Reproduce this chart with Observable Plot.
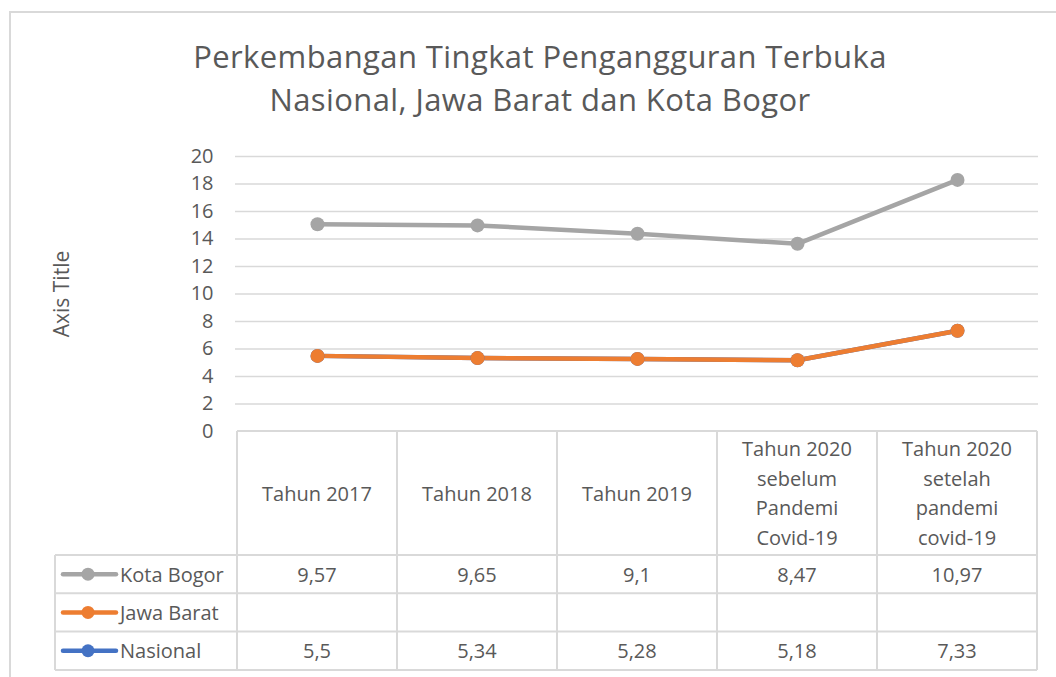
<!DOCTYPE html>
<html>
<head>
<meta charset="utf-8">
<script src="https://cdn.jsdelivr.net/npm/d3@7"></script>
<script src="https://cdn.jsdelivr.net/npm/@observablehq/plot@0.6"></script>
<style>
  html, body { margin: 0; padding: 0; background: #fff; }
  #wrap { position: relative; width: 1056px; height: 677px; overflow: hidden; font-family: "Open Sans", sans-serif; }
  #border { position: absolute; left: 9px; top: 11px; width: 1100px; height: 700px; border-left: 2px solid #d9d9d9; border-top: 2px solid #d9d9d9; }
  #title { position: absolute; left: 0; top: 35px; width: 1080px; text-align: center; font-size: 31px; letter-spacing: 0.4px; line-height: 43px; color: #595959; }
  #chart { position: absolute; left: 0; top: 0; }
</style>
</head>
<body>
<div id="wrap">
  <div id="border"></div>
  <div id="chart"></div>
  <div id="title">Perkembangan Tingkat Pengangguran Terbuka<br>Nasional, Jawa Barat dan Kota Bogor</div>
</div>
<script>
// Categories (header labels of the data table)
const categories = [
  "Tahun 2017",
  "Tahun 2018",
  "Tahun 2019",
  "Tahun 2020\nsebelum\nPandemi\nCovid-19",
  "Tahun 2020\nsetelah\npandemi\ncovid-19"
];
// Series values (stacked line chart; Jawa Barat is empty)
const nasional = [5.5, 5.34, 5.28, 5.18, 7.33];
const jawaBarat = [null, null, null, null, null];
const kotaBogor = [9.57, 9.65, 9.1, 8.47, 10.97];
// Y tick labels
const yTicks = [0, 2, 4, 6, 8, 10, 12, 14, 16, 18, 20];

const seriesNames = ["Kota Bogor", "Jawa Barat", "Nasional"]; // table order
const colors = {"Nasional": "#4472c4", "Jawa Barat": "#ed7d31", "Kota Bogor": "#a5a5a5"};
const values = {"Nasional": nasional, "Jawa Barat": jawaBarat, "Kota Bogor": kotaBogor};

// Stack in Excel order: Nasional, Jawa Barat, Kota Bogor
const stackOrder = ["Nasional", "Jawa Barat", "Kota Bogor"];
const stacked = [];
const cum = categories.map(() => 0);
for (const s of stackOrder) {
  values[s].forEach((v, i) => {
    cum[i] += (v == null ? 0 : v);
    stacked.push({series: s, cat: categories[i], value: cum[i]});
  });
}

const fmt = v => v == null ? "" : String(v).replace(".", ",");
const font = '"Open Sans", sans-serif';
const textColor = "#595959";
const lineColor = "#d9d9d9";

function dataTable(index, scales, vals, dims) {
  const x = scales.x, y = scales.y;
  const centers = categories.map(c => x(c));
  const step = centers[1] - centers[0];
  const left = centers[0] - step / 2;
  const right = centers[centers.length - 1] + step / 2;
  const top = y(0);
  const headerH = 124;
  const rowH = 38.3;
  const rowsTop = top + headerH;
  const bottom = rowsTop + rowH * seriesNames.length;
  const legendLeft = 55;
  const g = d3.create("svg:g");
  const lines = g.append("g").attr("stroke", lineColor).attr("stroke-width", 2);
  for (let i = 0; i <= categories.length; i++) {
    const bx = left + i * step;
    lines.append("line").attr("x1", bx).attr("x2", bx).attr("y1", top).attr("y2", bottom);
  }
  lines.append("line").attr("x1", left).attr("x2", right).attr("y1", top).attr("y2", top);
  for (let r = 0; r <= seriesNames.length; r++) {
    const ry = rowsTop + r * rowH;
    lines.append("line").attr("x1", legendLeft).attr("x2", right).attr("y1", ry).attr("y2", ry);
  }
  lines.append("line").attr("x1", legendLeft).attr("x2", legendLeft).attr("y1", rowsTop).attr("y2", bottom);

  const txt = g.append("g").attr("font-family", font).attr("font-size", 20).attr("fill", textColor);
  categories.forEach((c, i) => {
    const parts = c.split("\n");
    const lh = 29.5;
    const cy = top + headerH / 2;
    parts.forEach((p, k) => {
      txt.append("text")
        .attr("x", centers[i])
        .attr("y", cy + (k - (parts.length - 1) / 2) * lh)
        .attr("text-anchor", "middle")
        .attr("dominant-baseline", "central")
        .text(p);
    });
  });
  seriesNames.forEach((s, r) => {
    const cy = rowsTop + r * rowH + rowH / 2;
    g.append("line").attr("x1", 63).attr("x2", 116).attr("y1", cy).attr("y2", cy)
      .attr("stroke", colors[s]).attr("stroke-width", 4.5).attr("stroke-linecap", "round");
    g.append("circle").attr("cx", 88).attr("cy", cy).attr("r", 6.5).attr("fill", colors[s]);
    txt.append("text").attr("x", 120).attr("y", cy).attr("text-anchor", "start")
      .attr("dominant-baseline", "central").text(s);
    values[s].forEach((v, i) => {
      txt.append("text").attr("x", centers[i]).attr("y", cy)
        .attr("text-anchor", "middle").attr("dominant-baseline", "central").text(fmt(v));
    });
  });
  return g.node();
}

const chart = Plot.plot({
  width: 1056,
  height: 677,
  marginLeft: 235,
  marginRight: 18,
  marginTop: 156,
  marginBottom: 246,
  style: {fontFamily: font, fontSize: "20px", color: textColor, background: "transparent", overflow: "visible"},
  x: {type: "point", domain: categories, padding: 0.5, axis: null},
  y: {domain: [0, 20], ticks: yTicks, tickSize: 0, tickPadding: 22, label: null, tickFormat: d => String(d)},
  marks: [
    Plot.ruleY(yTicks.filter(t => t > 0), {stroke: lineColor, strokeWidth: 1.6}),
    Plot.text(["Axis Title"], {frameAnchor: "left", textAnchor: "middle", dx: -173, rotate: -90, fontSize: 21, fill: textColor}),
    ...stackOrder.map(s => Plot.line(stacked.filter(d => d.series === s), {
      x: "cat", y: "value", stroke: colors[s], strokeWidth: 4.5, strokeLinecap: "round", strokeLinejoin: "round"
    })),
    ...stackOrder.map(s => Plot.dot(stacked.filter(d => d.series === s), {
      x: "cat", y: "value", r: 7, fill: colors[s]
    })),
    dataTable
  ]
});
document.getElementById("chart").appendChild(chart);
</script>
</body>
</html>
